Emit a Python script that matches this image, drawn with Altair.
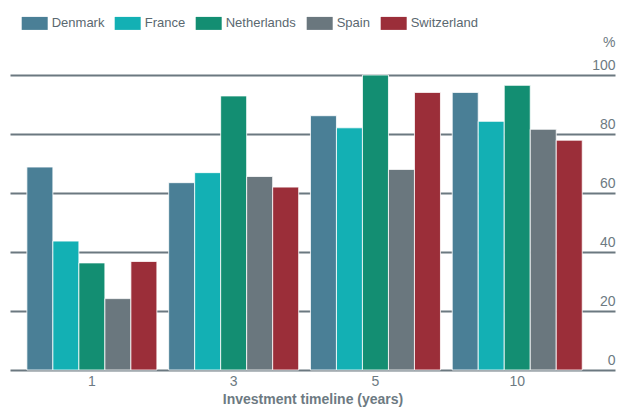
import altair as alt
import pandas as pd

years = ["1", "3", "5", "10"]
countries = ["Denmark", "France", "Netherlands", "Spain", "Switzerland"]
denmark = [68.8, 63.5, 86.2, 94.1]
france = [43.7, 66.9, 82.1, 84.3]
netherlands = [36.3, 92.9, 100.0, 96.5]
spain = [24.2, 65.6, 68.0, 81.6]
switzerland = [36.8, 62.0, 94.1, 77.9]
colors = ["#4a7f96", "#13b0b4", "#138e72", "#6a777e", "#9b2e39"]
y_ticks = [0, 20, 40, 60, 80, 100]

series = [denmark, france, netherlands, spain, switzerland]
rows = []
for c, vals in zip(countries, series):
    for yr, v in zip(years, vals):
        rows.append({"year": yr, "country": c, "value": v})
df = pd.DataFrame(rows)

FONT = "Liberation Sans"
GREY = "#6d7a82"

chart = alt.Chart(df).mark_bar(
    stroke="white", strokeWidth=1, strokeOpacity=0.8
).encode(
    x=alt.X("year:N", sort=years,
            scale=alt.Scale(paddingInner=0.083, paddingOuter=0.175, align=0.34),
            axis=alt.Axis(title="Investment timeline (years)", labelAngle=0,
                          domain=False, ticks=False, grid=False,
                          labelFont=FONT, labelFontSize=14, labelColor=GREY,
                          labelPadding=4, titleFont=FONT, titleFontSize=14,
                          titleFontWeight="bold", titleColor=GREY, titlePadding=4)),
    xOffset=alt.XOffset("country:N", sort=countries,
                        scale=alt.Scale(paddingInner=0, paddingOuter=0)),
    y=alt.Y("value:Q", scale=alt.Scale(domain=[0, 100], nice=False),
            axis=alt.Axis(orient="right", values=y_ticks, grid=True,
                          gridColor="#6b7880", gridWidth=2, domain=False,
                          ticks=False, tickSize=0, labelPadding=0,
                          labelAlign="right", labelBaseline="bottom",
                          labelOffset=-3, labelFont=FONT, labelFontSize=14,
                          labelColor=GREY, title="%", titleAngle=0,
                          titleAlign="right", titleBaseline="alphabetic",
                          titleX=0, titleY=-29, titleFont=FONT,
                          titleFontSize=14, titleFontWeight="normal",
                          titleColor=GREY)),
    color=alt.Color("country:N", sort=countries,
                    scale=alt.Scale(domain=countries, range=colors),
                    legend=alt.Legend(title=None, orient="none", direction="horizontal",
                                      columns=5, legendX=11.7, legendY=-64.6,
                                      padding=0, columnPadding=10, labelOffset=4,
                                      symbolType="M-1,-0.5H1V0.5H-1Z", symbolSize=676,
                                      symbolStrokeWidth=0, symbolOpacity=1,
                                      labelFont=FONT, labelFontSize=13,
                                      labelColor="#5a6870")),
).properties(
    width=605, height=295,
    autosize=alt.AutoSizeParams(type="none"),
    padding={"left": 10, "top": 75, "right": 4, "bottom": 38},
    background="white",
).configure_view(stroke=None)

chart.save("out.html", embed_options={"renderer": "svg", "actions": False})
